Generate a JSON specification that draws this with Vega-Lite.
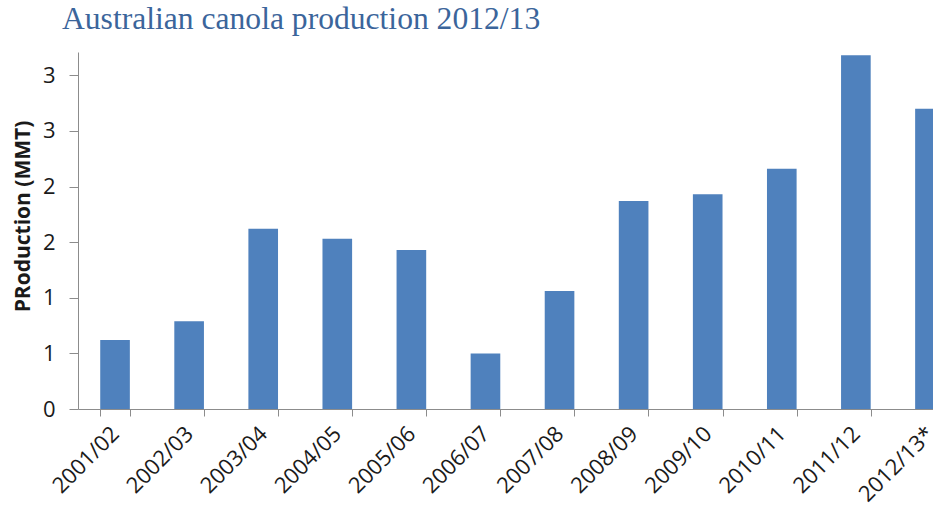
{
  "$schema": "https://vega.github.io/schema/vega-lite/v6.json",
  "autosize": {"type": "none"},
  "padding": {"left": 78, "top": 52, "right": 0, "bottom": 100},
  "width": 889,
  "height": 357,
  "background": "white",
  "title": {
    "text": "Australian canola production 2012/13",
    "anchor": "start",
    "frame": "group",
    "dx": -16,
    "offset": 16,
    "font": "Liberation Serif",
    "fontSize": 31.6,
    "fontWeight": "normal",
    "color": "#3b659b"
  },
  "data": {
    "values": [
      {"season": "2001/02", "production": 0.62},
      {"season": "2002/03", "production": 0.79},
      {"season": "2003/04", "production": 1.62},
      {"season": "2004/05", "production": 1.53},
      {"season": "2005/06", "production": 1.43},
      {"season": "2006/07", "production": 0.50},
      {"season": "2007/08", "production": 1.06},
      {"season": "2008/09", "production": 1.87},
      {"season": "2009/10", "production": 1.93},
      {"season": "2010/11", "production": 2.16},
      {"season": "2011/12", "production": 3.18},
      {"season": "2012/13*", "production": 2.70}
    ]
  },
  "mark": {"type": "bar", "color": "#4f81bd"},
  "encoding": {
    "x": {
      "field": "season",
      "type": "nominal",
      "sort": null,
      "scale": {"paddingInner": 0.6, "paddingOuter": 0.3},
      "axis": {
        "title": null,
        "tickBand": "extent",
        "tickSize": 7,
        "tickColor": "#8c8c8c",
        "domainColor": "#8c8c8c",
        "labelAngle": -45,
        "labelAlign": "right",
        "labelBaseline": "middle",
        "labelPadding": 14,
        "labelFont": "Open Sans",
        "labelFontSize": 22,
        "labelColor": "#1a1a1a",
        "labelOverlap": false,
        "grid": false
      }
    },
    "y": {
      "field": "production",
      "type": "quantitative",
      "scale": {"domain": [0, 3.21], "nice": false, "zero": true},
      "axis": {
        "title": "PRoduction (MMT)",
        "titleFont": "Open Sans",
        "titleFontSize": 21,
        "titleFontWeight": "bold",
        "titleColor": "#1a1a1a",
        "titleAngle": -90,
        "titleX": -55,
        "titleY": 164,
        "titleAlign": "center",
        "titleBaseline": "middle",
        "values": [0, 0.5, 1, 1.5, 2, 2.5, 3],
        "labelExpr": "'' + round(datum.value)",
        "tickSize": 9,
        "tickColor": "#8c8c8c",
        "domainColor": "#8c8c8c",
        "labelPadding": 14,
        "labelFont": "Open Sans",
        "labelFontSize": 22,
        "labelColor": "#1a1a1a",
        "labelOverlap": false,
        "grid": false
      }
    }
  },
  "config": {"view": {"stroke": null}}
}
